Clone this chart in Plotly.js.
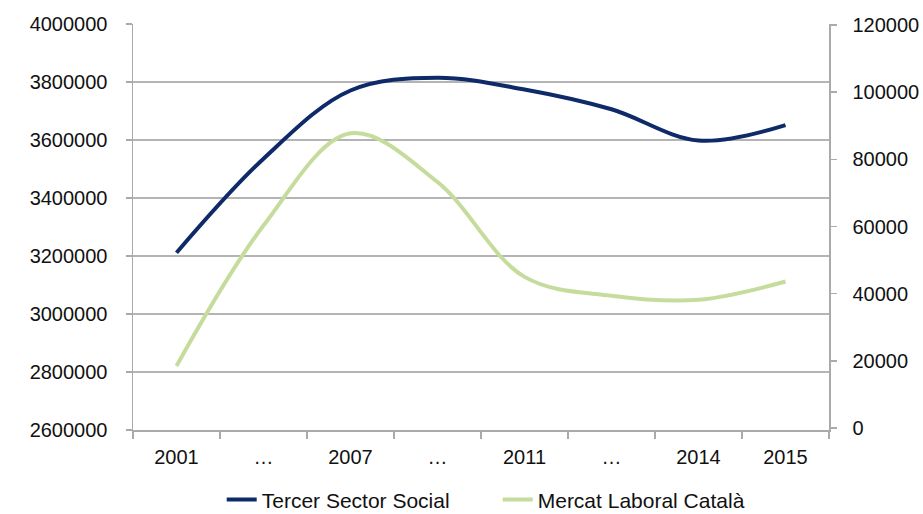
<!DOCTYPE html>
<html>
<head>
<meta charset="utf-8">
<script src="https://cdn.plot.ly/plotly-3.0.1.min.js"></script>
<style>html,body{margin:0;padding:0;background:#fff;}#chart{width:923px;height:514px;}</style>
</head>
<body>
<div id="chart"></div>
<script>
// Category positions and tick labels
var xIndex = [0, 1, 2, 3, 4, 5, 6, 7];
var xLabels = ['2001', '…', '2007', '…', '2011', '…', '2014', '2015'];
// Series values
var tercerSectorSocial = [52200, 80200, 100500, 104300, 100800, 94900, 85600, 90200];   // right axis
var mercatLaboralCatala = [2821000, 3305000, 3623000, 3455000, 3128000, 3063000, 3049000, 3112000]; // left axis
var leftTicks = [2600000, 2800000, 3000000, 3200000, 3400000, 3600000, 3800000, 4000000];
var rightTicks = [0, 20000, 40000, 60000, 80000, 100000, 120000];

var fontFam = 'Liberation Sans, Arial, Helvetica, sans-serif';

var traces = [
  {
    x: xIndex, y: tercerSectorSocial, name: 'Tercer Sector Social', yaxis: 'y2',
    type: 'scatter', mode: 'lines',
    line: {color: '#0f2a68', width: 4, shape: 'spline', smoothing: 1}
  },
  {
    x: xIndex, y: mercatLaboralCatala, name: 'Mercat Laboral Català', yaxis: 'y',
    type: 'scatter', mode: 'lines',
    line: {color: '#c6dc9c', width: 4, shape: 'spline', smoothing: 1}
  }
];

var layout = {
  width: 923, height: 514,
  margin: {l: 133, r: 94, t: 24, b: 84, autoexpand: false},
  paper_bgcolor: '#fff', plot_bgcolor: '#fff',
  font: {family: fontFam, size: 20, color: '#111'},
  showlegend: true,
  legend: {
    orientation: 'h', x: 0.524, xanchor: 'center', y: -0.172, yanchor: 'middle',
    font: {family: fontFam, size: 21, color: '#111'}, traceorder: 'normal',
    itemwidth: 30, entrywidth: 231, entrywidthmode: 'pixels'
  },
  xaxis: {
    type: 'category', automargin: false,
    tickmode: 'array', tickvals: xIndex, ticktext: xLabels,
    tickson: 'boundaries', ticks: 'outside', ticklen: 7, tickcolor: '#aaa', tickwidth: 1.5,
    showline: true, linecolor: '#aaa', linewidth: 1.5,
    showgrid: false, zeroline: false,
    range: [-0.5, 7.5],
    tickfont: {size: 20}, ticklabelstandoff: 8
  },
  yaxis: {
    automargin: false,
    range: [2600000, 4000000], tickmode: 'array', tickvals: leftTicks,
    ticktext: leftTicks.map(String),
    showline: true, linecolor: '#aaa', linewidth: 1.5,
    ticks: 'outside', ticklen: 6, tickcolor: '#aaa', tickwidth: 1.5,
    showgrid: true, gridcolor: '#b4b4b4', gridwidth: 1.5,
    zeroline: false, tickfont: {size: 20}, ticklabelstandoff: 14
  },
  yaxis2: {
    automargin: false,
    overlaying: 'y', side: 'right',
    range: [-590, 120295], tickmode: 'array', tickvals: rightTicks,
    ticktext: rightTicks.map(String),
    showline: true, linecolor: '#aaa', linewidth: 1.5,
    ticks: 'outside', ticklen: 6, tickcolor: '#aaa', tickwidth: 1.5,
    showgrid: false, zeroline: false, tickfont: {size: 20}, ticklabelstandoff: 12
  }
};

Plotly.newPlot('chart', traces, layout, {staticPlot: true, displayModeBar: false});
</script>
</body>
</html>
